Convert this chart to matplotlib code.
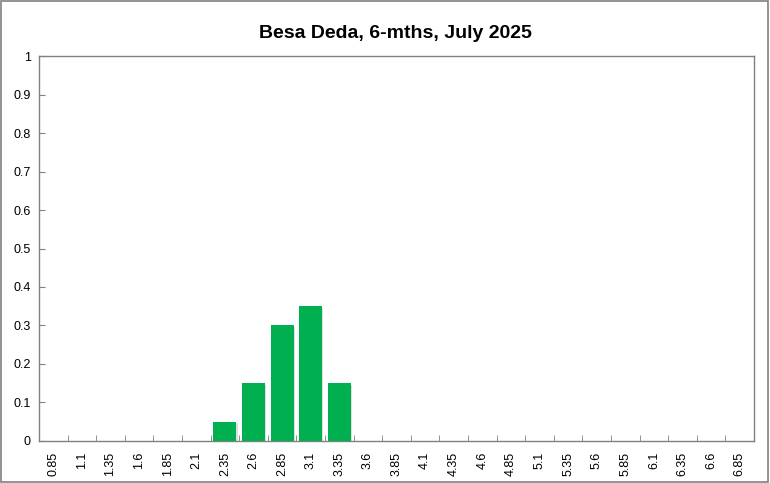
import matplotlib
matplotlib.use("Agg")
import matplotlib.pyplot as plt
import matplotlib.patheffects as pe
import numpy as np

plt.rcParams['font.family'] = ['Liberation Sans', 'DejaVu Sans']

categories = ["0.85", "1.1", "1.35", "1.6", "1.85", "2.1", "2.35", "2.6", "2.85", "3.1",
              "3.35", "3.6", "3.85", "4.1", "4.35", "4.6", "4.85", "5.1", "5.35", "5.6",
              "5.85", "6.1", "6.35", "6.6", "6.85"]
probs = [0, 0, 0, 0, 0, 0, 0.05, 0.15, 0.30, 0.35,
         0.15, 0, 0, 0, 0, 0, 0, 0, 0, 0,
         0, 0, 0, 0, 0]
title = "Besa Deda, 6-mths, July 2025"

fig = plt.figure(figsize=(7.7, 4.83), dpi=100)
ax = fig.add_axes([0.0506, 0.087, 0.9286, 0.797])

x = np.arange(len(categories))
bars = ax.bar(x, probs, width=0.8, color="#00B050", zorder=3)
for b in bars:
    b.set_path_effects([pe.SimplePatchShadow(offset=(1.0, -1.0), shadow_rgbFace="#a0a0a0", alpha=0.35), pe.Normal()])

ax.set_xlim(-0.5, len(categories) - 0.5)
ax.set_ylim(0, 1)
ax.set_yticks(np.arange(0, 1.01, 0.1))
ax.set_yticklabels(["0", "0.1", "0.2", "0.3", "0.4", "0.5", "0.6", "0.7", "0.8", "0.9", "1"])
ax.set_xticks(x)
ax.set_xticklabels(categories, rotation=90)
ax.set_xticks(np.arange(-0.5, len(categories), 1), minor=True)

ax.tick_params(axis='y', direction='in', length=4, color="#808080", labelsize=9, pad=6)
ax.tick_params(axis='x', which='major', length=0, labelsize=9, pad=8)
ax.tick_params(axis='x', which='minor', direction='in', length=4, color="#808080")

for s in ax.spines.values():
    s.set_color("#808080")
    s.set_linewidth(1)

fig.text(0.513, 0.93, title, ha='center', va='center', fontsize=14, fontweight='bold')

# outer border
fig.patches.append(plt.Rectangle((0.001, 0.002), 0.997, 0.996, transform=fig.transFigure,
                                 fill=False, edgecolor="#808080", linewidth=1.2))

fig.savefig("out.png", dpi=100)
